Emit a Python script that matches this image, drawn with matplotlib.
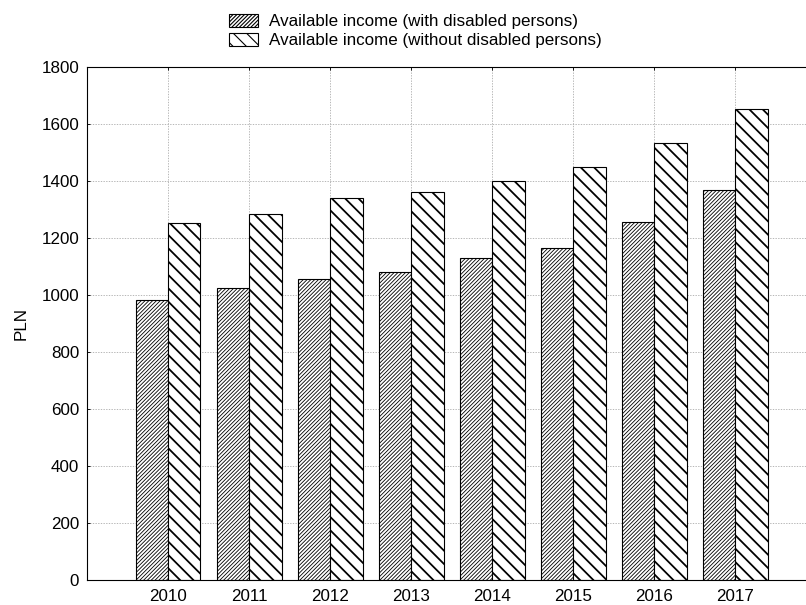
import matplotlib
matplotlib.use("Agg")
import matplotlib.pyplot as plt
import numpy as np

years = ["2010", "2011", "2012", "2013", "2014", "2015", "2016", "2017"]
with_disabled = [982, 1023, 1056, 1080, 1130, 1165, 1254, 1367]
without_disabled = [1252, 1284, 1341, 1359, 1399, 1447, 1531, 1652]

series_labels = [
    "Available income (with disabled persons)",
    "Available income (without disabled persons)",
]

plt.rcParams["font.family"] = ["Liberation Sans", "DejaVu Sans"]
plt.rcParams["font.size"] = 15.3

DPI = 80
fig = plt.figure(figsize=(806 / DPI, 605 / DPI), dpi=DPI)
ax = fig.add_axes([87 / 806, 25 / 605, (816.5 - 87) / 806, (580 - 66.7) / 605])

x = np.arange(len(years))
width = 0.4


def _bars(values, offset, hatch, hlw, label):
    with plt.rc_context({"hatch.linewidth": hlw}):
        bars = ax.bar(x + offset, values, width, facecolor="white",
                      edgecolor="black", linewidth=1.0, hatch=hatch,
                      label=label, zorder=2)
        for p in bars:
            if hasattr(p, "set_hatch_linewidth"):
                p.set_hatch_linewidth(hlw)
    return bars


b1 = _bars(with_disabled, -width / 2, "///////", 0.75, series_labels[0])
b2 = _bars(without_disabled, width / 2, "\\\\", 1.6, series_labels[1])

ax.set_xlim(-1, 8)
ax.set_ylim(0, 1800)
ax.set_yticks(np.arange(0, 1801, 200))
ax.set_xticks(x)
ax.set_xticklabels(years)
ax.set_ylabel("PLN", labelpad=12)

ax.grid(True, linestyle=(0, (1.5, 1.5)), color="#b0b0b0", linewidth=0.8, zorder=0)
ax.set_axisbelow(True)
ax.tick_params(axis="both", direction="in", length=3, top=True, colors="black")
ax.tick_params(axis="x", pad=8)
ax.tick_params(axis="y", pad=7)
for spine in ax.spines.values():
    spine.set_color("black")
    spine.set_linewidth(1.0)

fig.legend(handles=[b1, b2], labels=series_labels, loc="upper center",
           bbox_to_anchor=(0.515, 0.994), frameon=False, ncol=1,
           handlelength=1.75, handleheight=0.8, handletextpad=0.6,
           labelspacing=0.2, borderaxespad=0.2)

fig.savefig("out.png", dpi=DPI, facecolor="white")
